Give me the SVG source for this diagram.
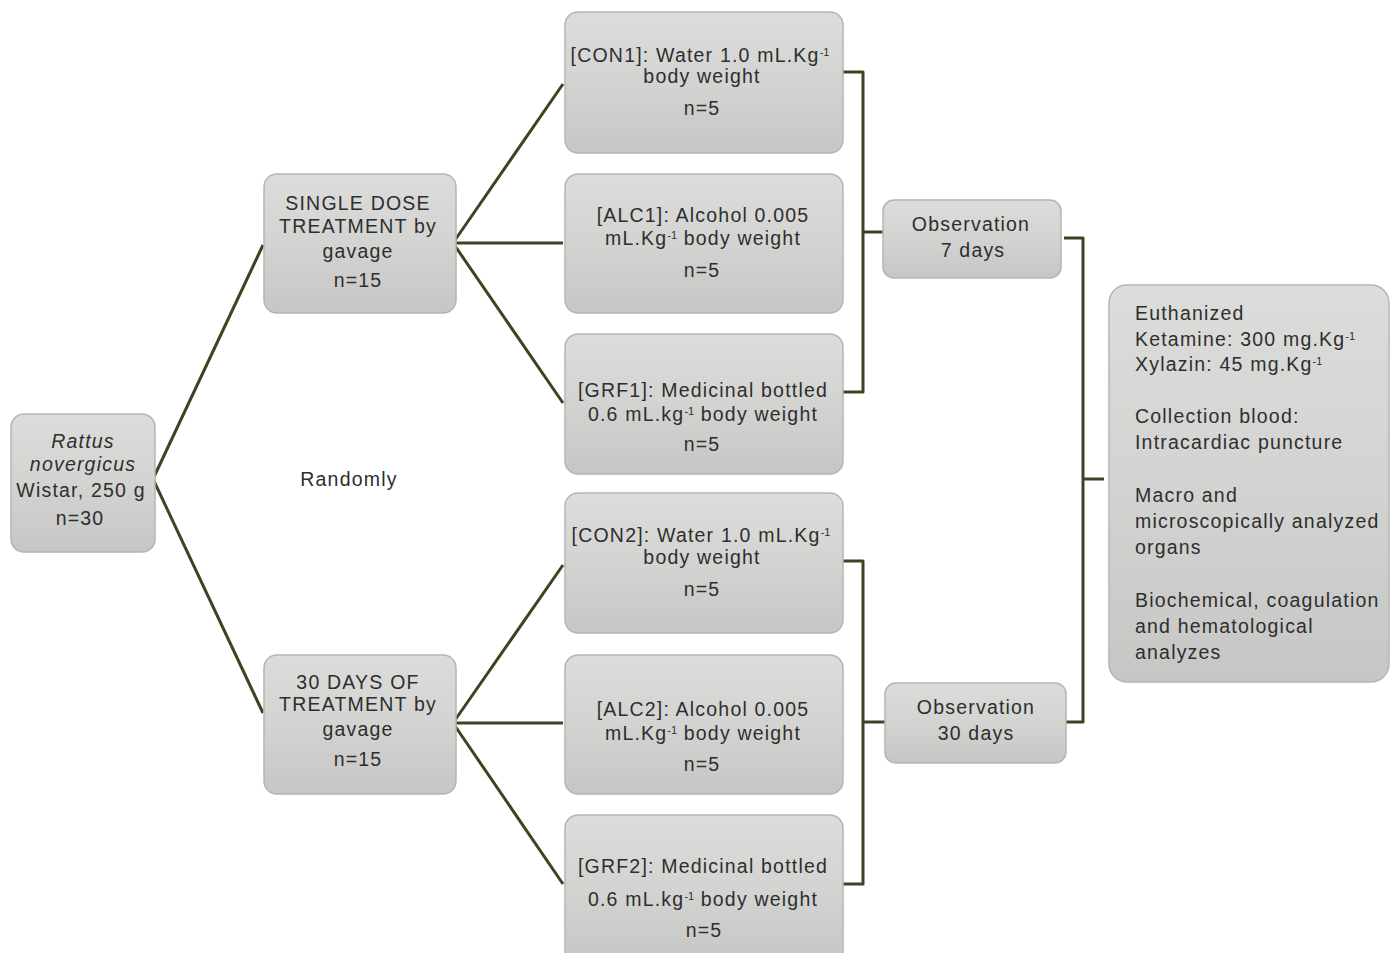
<svg xmlns="http://www.w3.org/2000/svg" width="1390" height="953" viewBox="0 0 1390 953">
<defs>
<linearGradient id="g" x1="0" y1="0" x2="0" y2="1">
<stop offset="0" stop-color="#dcdddb"/>
<stop offset="0.5" stop-color="#d3d4d1"/>
<stop offset="1" stop-color="#c6c7c4"/>
</linearGradient>
<style>
.box{fill:url(#g);stroke:#b4b6b2;stroke-width:1.5}
.t{font-family:"Liberation Sans",Arial,sans-serif;font-size:19.5px;letter-spacing:1.2px;fill:#2e2e2e;text-anchor:middle}
.l{text-anchor:start}
.i{font-style:italic}
.sup{font-size:11px;letter-spacing:0}
.c{fill:none;stroke:#3b4522;stroke-width:3;stroke-linejoin:round}
</style>
</defs>
<rect width="1390" height="953" fill="#ffffff"/>
<g id="connectors">
<polyline class="c" points="263,245 153,479 263,713"/>
<polyline class="c" points="563,84 453,243 563,403"/>
<line class="c" x1="453" y1="243" x2="563" y2="243"/>
<polyline class="c" points="563,565 453,723 563,884"/>
<line class="c" x1="453" y1="723" x2="563" y2="723"/>
<polyline class="c" points="843,72 863,72 863,392 843,392"/>
<line class="c" x1="863" y1="232" x2="883" y2="232"/>
<polyline class="c" points="843,561 863,561 863,884 843,884"/>
<line class="c" x1="863" y1="722" x2="885" y2="722"/>
<polyline class="c" points="1064,238 1083,238 1083,722 1066,722"/>
<line class="c" x1="1083" y1="479" x2="1104" y2="479"/>
</g>
<g id="root">
<rect class="box" x="11" y="414" width="144" height="138" rx="13"/>
<text class="t i" x="83" y="448">Rattus</text>
<text class="t i" x="83" y="471">novergicus</text>
<text class="t" x="81" y="497">Wistar, 250 g</text>
<text class="t" x="80" y="525">n=30</text>
</g>
<g id="single">
<rect class="box" x="264" y="174" width="192" height="139" rx="13"/>
<text class="t" x="358" y="210">SINGLE DOSE</text>
<text class="t" x="358" y="233">TREATMENT by</text>
<text class="t" x="358" y="258">gavage</text>
<text class="t" x="358" y="287">n=15</text>
</g>
<g id="thirty">
<rect class="box" x="264" y="655" width="192" height="139" rx="13"/>
<text class="t" x="358" y="689">30 DAYS OF</text>
<text class="t" x="358" y="711">TREATMENT by</text>
<text class="t" x="358" y="736">gavage</text>
<text class="t" x="358" y="766">n=15</text>
</g>
<g id="randomly">
<text class="t" x="349" y="486">Randomly</text>
</g>
<g id="con1">
<rect class="box" x="565" y="12" width="278" height="141" rx="13"/>
<text class="t" x="700" y="62">[CON1]: Water 1.0 mL.Kg<tspan class="sup" baseline-shift="super">-1</tspan></text>
<text class="t" x="702" y="83">body weight</text>
<text class="t" x="702" y="115">n=5</text>
</g>
<g id="alc1">
<rect class="box" x="565" y="174" width="278" height="139" rx="13"/>
<text class="t" x="703" y="222">[ALC1]: Alcohol 0.005</text>
<text class="t" x="703" y="245">mL.Kg<tspan class="sup" baseline-shift="super">-1</tspan> body weight</text>
<text class="t" x="702" y="277">n=5</text>
</g>
<g id="grf1">
<rect class="box" x="565" y="334" width="278" height="140" rx="13"/>
<text class="t" x="703" y="397">[GRF1]: Medicinal bottled</text>
<text class="t" x="703" y="421">0.6 mL.kg<tspan class="sup" baseline-shift="super">-1</tspan> body weight</text>
<text class="t" x="702" y="451">n=5</text>
</g>
<g id="con2">
<rect class="box" x="565" y="493" width="278" height="140" rx="13"/>
<text class="t" x="701" y="542">[CON2]:  Water 1.0 mL.Kg<tspan class="sup" baseline-shift="super">-1</tspan></text>
<text class="t" x="702" y="564">body weight</text>
<text class="t" x="702" y="596">n=5</text>
</g>
<g id="alc2">
<rect class="box" x="565" y="655" width="278" height="139" rx="13"/>
<text class="t" x="703" y="716">[ALC2]: Alcohol 0.005</text>
<text class="t" x="703" y="740">mL.Kg<tspan class="sup" baseline-shift="super">-1</tspan> body weight</text>
<text class="t" x="702" y="771">n=5</text>
</g>
<g id="grf2">
<rect class="box" x="565" y="815" width="278" height="150" rx="13"/>
<text class="t" x="703" y="873">[GRF2]: Medicinal bottled</text>
<text class="t" x="703" y="906">0.6 mL.kg<tspan class="sup" baseline-shift="super">-1</tspan> body weight</text>
<text class="t" x="704" y="937">n=5</text>
</g>
<g id="obs7">
<rect class="box" x="883" y="200" width="178" height="78" rx="11"/>
<text class="t" x="971" y="231">Observation</text>
<text class="t" x="973" y="257">7 days</text>
</g>
<g id="obs30">
<rect class="box" x="885" y="683" width="181" height="80" rx="11"/>
<text class="t" x="976" y="714">Observation</text>
<text class="t" x="976" y="740">30 days</text>
</g>
<g id="final">
<rect class="box" x="1109" y="285" width="280" height="397" rx="18"/>
<text class="t l" x="1135" y="320">Euthanized</text>
<text class="t l" x="1135" y="346">Ketamine: 300 mg.Kg<tspan class="sup" baseline-shift="super">-1</tspan></text>
<text class="t l" x="1135" y="371">Xylazin: 45 mg.Kg<tspan class="sup" baseline-shift="super">-1</tspan></text>
<text class="t l" x="1135" y="423">Collection blood:</text>
<text class="t l" x="1135" y="449">Intracardiac puncture</text>
<text class="t l" x="1135" y="502">Macro and</text>
<text class="t l" x="1135" y="528">microscopically analyzed</text>
<text class="t l" x="1135" y="554">organs</text>
<text class="t l" x="1135" y="607">Biochemical, coagulation</text>
<text class="t l" x="1135" y="633">and hematological</text>
<text class="t l" x="1135" y="659">analyzes</text>
</g>
</svg>
